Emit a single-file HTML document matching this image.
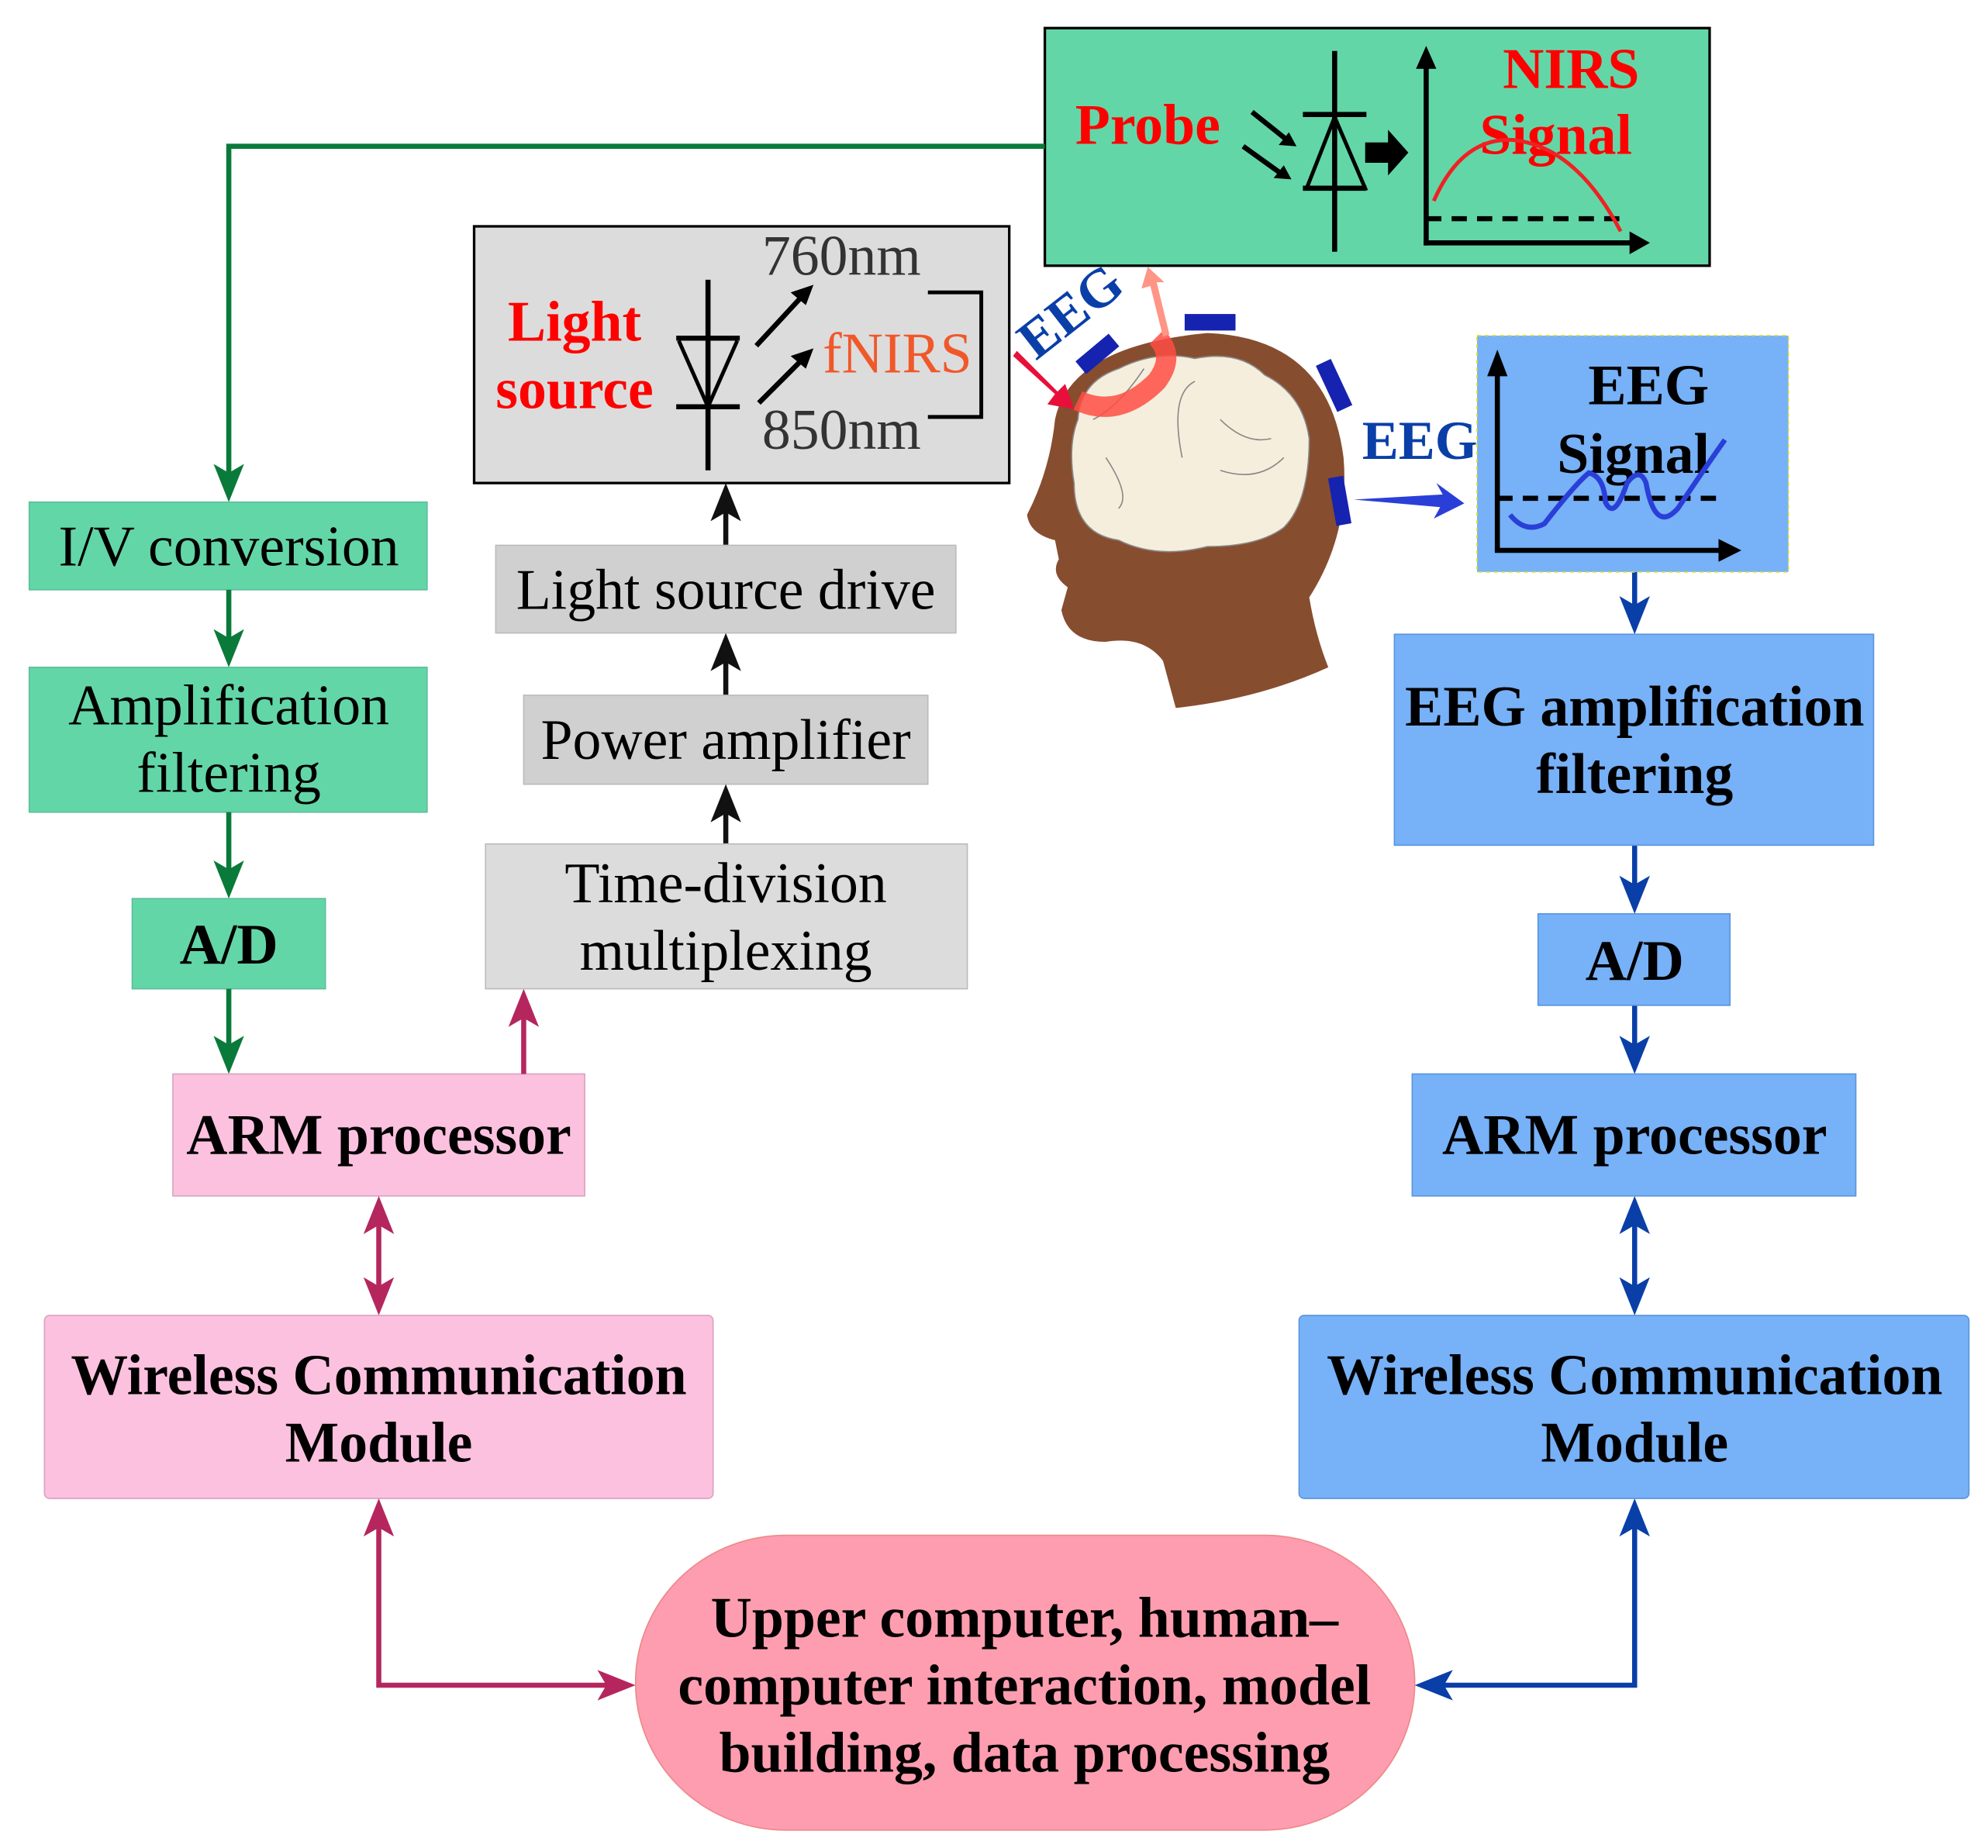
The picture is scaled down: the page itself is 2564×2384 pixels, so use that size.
<!DOCTYPE html>
<html><head><meta charset="utf-8"><style>
html,body{margin:0;padding:0;background:#fff}
svg{display:block}
text{font-family:"Liberation Serif",serif;font-size:45px}
</style></head><body>
<svg width="2564" height="2384" viewBox="0 0 1564 1454" xmlns="http://www.w3.org/2000/svg">
<!-- green NIRS box -->
<rect x="822" y="22" width="523" height="187" fill="#63d6a8" stroke="#000" stroke-width="2"/>
<text x="903" y="113" font-weight="bold" fill="#f00" text-anchor="middle">Probe</text>
<text x="1236" y="69" font-weight="bold" fill="#f00" text-anchor="middle">NIRS</text>
<text x="1224" y="121" font-weight="bold" fill="#f00" text-anchor="middle">Signal</text>
<g stroke="#000" stroke-width="4" fill="none">
<line x1="1050" y1="40" x2="1050" y2="198"/>
<line x1="1025" y1="90" x2="1075" y2="90"/>
<path d="M1050 92 L1028 148 L1074 148 Z" stroke-width="3"/>
<line x1="1025" y1="148" x2="1075" y2="148"/>
<line x1="1122" y1="48" x2="1122" y2="193"/>
<line x1="1120" y1="191" x2="1290" y2="191"/>
<line x1="1122" y1="172" x2="1275" y2="172" stroke-dasharray="12,8"/>
<line x1="985" y1="88" x2="1015" y2="112"/>
<line x1="978" y1="115" x2="1010" y2="138"/>
</g>
<path d="M1122 36 L1114 54 L1130 54Z M1298 191 L1282 182 L1282 200Z M1020 115 L1006 114 L1014 104Z M1016 141 L1002 140 L1010 130Z M1074 112 L1092 112 L1092 102 L1108 120 L1092 138 L1092 128 L1074 128Z" fill="#000"/>
<path d="M1128 158 Q1150 108 1190 110 Q1240 115 1275 182" stroke="#e22" stroke-width="3" fill="none"/>
<!-- green connector -->
<polyline points="822,115 180,115 180,390" stroke="#0a7a3a" stroke-width="4" fill="none"/>
<path d="M180 395 L168 365 L180 372 L192 365Z" fill="#0a7a3a"/>
<!-- green boxes -->
<rect x="23" y="395" width="313" height="69" fill="#63d6a8" stroke="#5cbf9a"/>
<text x="180" y="445" text-anchor="middle">I/V conversion</text>
<line x1="180" y1="464" x2="180" y2="520" stroke="#0a7a3a" stroke-width="4"/>
<path d="M180 525 L168 495 L180 502 L192 495Z" fill="#0a7a3a"/>
<rect x="23" y="525" width="313" height="114" fill="#63d6a8" stroke="#5cbf9a"/>
<text x="180" y="570" text-anchor="middle">Amplification</text>
<text x="180" y="623" text-anchor="middle">filtering</text>
<line x1="180" y1="639" x2="180" y2="702" stroke="#0a7a3a" stroke-width="4"/>
<path d="M180 707 L168 677 L180 684 L192 677Z" fill="#0a7a3a"/>
<rect x="104" y="707" width="152" height="71" fill="#63d6a8" stroke="#5cbf9a"/>
<text x="180" y="758" font-weight="bold" text-anchor="middle">A/D</text>
<line x1="180" y1="778" x2="180" y2="840" stroke="#0a7a3a" stroke-width="4"/>
<path d="M180 845 L168 815 L180 822 L192 815Z" fill="#0a7a3a"/>
<!-- pink -->
<rect x="136" y="845" width="324" height="96" fill="#fdc1e0" stroke="#d9a3bf"/>
<text x="298" y="908" font-weight="bold" text-anchor="middle">ARM processor</text>
<line x1="412" y1="845" x2="412" y2="785" stroke="#b5265e" stroke-width="4"/>
<path d="M412 778 L400 808 L412 801 L424 808Z" fill="#b5265e"/>
<line x1="298" y1="948" x2="298" y2="1028" stroke="#b5265e" stroke-width="4"/>
<path d="M298 941 L286 971 L298 964 L310 971Z M298 1035 L286 1005 L298 1012 L310 1005Z" fill="#b5265e"/>
<rect x="35" y="1035" width="526" height="144" rx="4" fill="#fdc1e0" stroke="#d9a3bf"/>
<text x="298" y="1097" font-weight="bold" text-anchor="middle">Wireless Communication</text>
<text x="298" y="1150" font-weight="bold" text-anchor="middle">Module</text>
<polyline points="298,1186 298,1326 493,1326" stroke="#b5265e" stroke-width="4" fill="none"/>
<path d="M298 1179 L286 1209 L298 1202 L310 1209Z M500 1326 L470 1314 L477 1326 L470 1338Z" fill="#b5265e"/>
<!-- oval -->
<rect x="500" y="1208" width="613" height="232" rx="118" ry="116" fill="#fd9daf" stroke="#e88"/>
<text x="806" y="1288" font-weight="bold" text-anchor="middle">Upper computer, human–</text>
<text x="806" y="1341" font-weight="bold" text-anchor="middle">computer interaction, model</text>
<text x="806" y="1394" font-weight="bold" text-anchor="middle">building, data processing</text>
<!-- blue right -->
<polyline points="1286,1186 1286,1326 1120,1326" stroke="#0a3fa8" stroke-width="4" fill="none"/>
<path d="M1286 1179 L1274 1209 L1286 1202 L1298 1209Z M1113 1326 L1143 1314 L1136 1326 L1143 1338Z" fill="#0a3fa8"/>
<rect x="1022" y="1035" width="527" height="144" rx="4" fill="#77b1f7" stroke="#5a95dd"/>
<text x="1286" y="1097" font-weight="bold" text-anchor="middle">Wireless Communication</text>
<text x="1286" y="1150" font-weight="bold" text-anchor="middle">Module</text>
<line x1="1286" y1="948" x2="1286" y2="1028" stroke="#0a3fa8" stroke-width="4"/>
<path d="M1286 941 L1274 971 L1286 964 L1298 971Z M1286 1035 L1274 1005 L1286 1012 L1298 1005Z" fill="#0a3fa8"/>
<rect x="1111" y="845" width="349" height="96" fill="#77b1f7" stroke="#5a95dd"/>
<text x="1286" y="908" font-weight="bold" text-anchor="middle">ARM processor</text>
<line x1="1286" y1="791" x2="1286" y2="840" stroke="#0a3fa8" stroke-width="4"/>
<path d="M1286 845 L1274 815 L1286 822 L1298 815Z" fill="#0a3fa8"/>
<rect x="1210" y="719" width="151" height="72" fill="#77b1f7" stroke="#5a95dd"/>
<text x="1286" y="771" font-weight="bold" text-anchor="middle">A/D</text>
<line x1="1286" y1="665" x2="1286" y2="714" stroke="#0a3fa8" stroke-width="4"/>
<path d="M1286 719 L1274 689 L1286 696 L1298 689Z" fill="#0a3fa8"/>
<rect x="1097" y="499" width="377" height="166" fill="#77b1f7" stroke="#5a95dd"/>
<text x="1286" y="571" font-weight="bold" text-anchor="middle">EEG amplification</text>
<text x="1286" y="624" font-weight="bold" text-anchor="middle">filtering</text>
<line x1="1286" y1="450" x2="1286" y2="494" stroke="#0a3fa8" stroke-width="4"/>
<path d="M1286 499 L1274 469 L1286 476 L1298 469Z" fill="#0a3fa8"/>
<!-- EEG signal box -->
<rect x="1162" y="264" width="245" height="186" fill="#77b1f7" stroke="#dd2" stroke-dasharray="3,3"/>
<text x="1297" y="318" font-weight="bold" text-anchor="middle">EEG</text>
<text x="1285" y="372" font-weight="bold" text-anchor="middle">Signal</text>
<g stroke="#000" stroke-width="4" fill="none">
<line x1="1178" y1="290" x2="1178" y2="434"/>
<line x1="1176" y1="433" x2="1360" y2="433"/>
<line x1="1178" y1="392" x2="1355" y2="392" stroke-dasharray="12,8"/>
</g>
<path d="M1178 275 L1170 296 L1186 296Z M1370 433 L1352 424 L1352 442Z" fill="#000"/>
<path d="M1188 405 Q1200 420 1215 412 Q1240 380 1250 372 Q1262 375 1263 395 Q1270 410 1280 380 Q1290 367 1295 380 Q1302 420 1320 400 Q1340 370 1357 346" stroke="#2a3fd8" stroke-width="4" fill="none"/>
<!-- gray light source -->
<rect x="373" y="178" width="421" height="202" fill="#dcdcdc" stroke="#000" stroke-width="2"/>
<text x="452" y="268" font-weight="bold" fill="#f00" text-anchor="middle">Light</text>
<text x="452" y="321" font-weight="bold" fill="#f00" text-anchor="middle">source</text>
<text x="662" y="216" fill="#333" text-anchor="middle">760nm</text>
<text x="662" y="353" fill="#333" text-anchor="middle">850nm</text>
<text x="706" y="293" fill="#f0582a" text-anchor="middle">fNIRS</text>
<g stroke="#000" stroke-width="4" fill="none">
<line x1="557" y1="220" x2="557" y2="370"/>
<line x1="532" y1="266" x2="582" y2="266"/>
<path d="M534 268 L557 320 L580 268" stroke-width="3"/>
<line x1="532" y1="320" x2="582" y2="320"/>
<line x1="595" y1="272" x2="632" y2="232"/>
<line x1="597" y1="317" x2="632" y2="282"/>
<path d="M730 230 L772 230 L772 328 L730 328" stroke-width="3"/>
</g>
<path d="M640 224 L622 230 L634 240Z M640 274 L622 280 L634 290Z" fill="#000"/>
<line x1="571" y1="429" x2="571" y2="390" stroke="#111" stroke-width="4"/>
<path d="M571 380 L559 410 L571 403 L583 410Z" fill="#111"/>
<rect x="390" y="429" width="362" height="69" fill="#d0d0d0" stroke="#bbb"/>
<text x="571" y="479" text-anchor="middle">Light source drive</text>
<line x1="571" y1="547" x2="571" y2="508" stroke="#111" stroke-width="4"/>
<path d="M571 498 L559 528 L571 521 L583 528Z" fill="#111"/>
<rect x="412" y="547" width="318" height="70" fill="#d0d0d0" stroke="#bbb"/>
<text x="571" y="597" text-anchor="middle">Power amplifier</text>
<line x1="571" y1="664" x2="571" y2="627" stroke="#111" stroke-width="4"/>
<path d="M571 617 L559 647 L571 640 L583 647Z" fill="#111"/>
<rect x="382" y="664" width="379" height="114" fill="#dcdcdc" stroke="#bbb"/>
<text x="571" y="710" text-anchor="middle">Time-division</text>
<text x="571" y="763" text-anchor="middle">multiplexing</text>
<!-- head -->
<path d="M925 557 L915 520 Q900 500 870 505 Q840 505 835 480 L840 462 Q826 452 833 440 L830 425 Q810 420 808 405 Q826 370 830 330 Q842 272 950 262 Q1045 266 1057 360 Q1062 420 1030 470 Q1035 500 1045 525 Q990 550 925 557 Z" fill="#874d2f"/>
<path d="M848 330 Q850 300 880 290 Q910 275 940 282 Q975 275 995 295 Q1025 310 1030 345 Q1030 395 1010 415 Q990 430 950 430 Q910 440 880 425 Q845 420 845 380 Q840 350 848 330 Z" fill="#f5eedc" stroke="#888" stroke-width="1"/>
<path d="M900 290 Q880 320 860 330" stroke="#888" fill="none"/>
<path d="M940 300 Q920 310 930 360 M960 330 Q980 350 1000 345 M870 360 Q890 390 880 400 M960 370 Q990 380 1010 360" stroke="#888" fill="none" stroke-width="1"/>
<path d="M848 315 Q880 330 910 300 Q925 280 910 265" stroke="#ff4d44" stroke-width="16" fill="none" opacity="0.85"/>
<g fill="#1622b0">
<rect x="932" y="247" width="40" height="13"/>
<rect x="846" y="272" width="34" height="13" transform="rotate(-40 863 278)"/>
<rect x="1030" y="297" width="40" height="13" transform="rotate(65 1050 303)"/>
<rect x="1035" y="388" width="38" height="12" transform="rotate(80 1054 394)"/>
</g>
<path d="M797 280 L830 310 L824 318 L845 322 L838 302 L832 308 L800 276Z" fill="#e8103a"/>
<path d="M915 265 L905 225 L898 227 L903 210 L916 222 L910 222 L920 263Z" fill="#ff9585"/>
<text x="0" y="0" font-weight="bold" fill="#0a3fa8" style="font-size:43px" transform="translate(815 284) rotate(-38)">EEG</text>
<text x="1117" y="361" font-weight="bold" fill="#0a3fa8" style="font-size:43px" text-anchor="middle">EEG</text>
<path d="M1065 393 L1135 389 L1130 380 L1152 396 L1128 408 L1133 399Z" fill="#2a3fd8"/>
</svg>
</body></html>
